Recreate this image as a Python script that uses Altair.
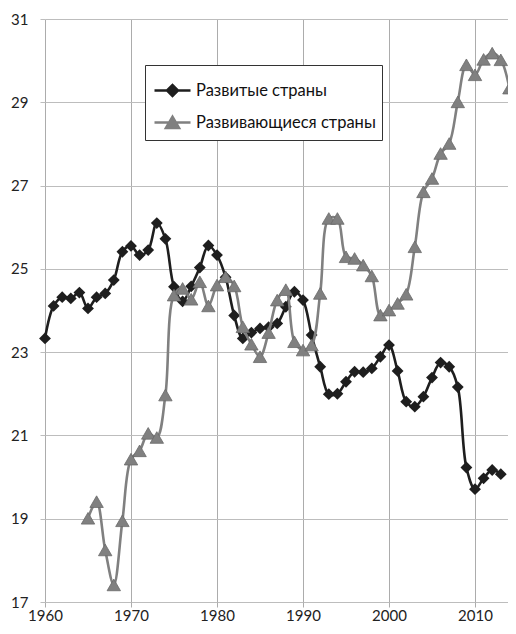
import altair as alt
import pandas as pd

# ---- data ----
dev_years = list(range(1960, 2014))
dev_values = [
    23.33, 24.11, 24.32, 24.29, 24.43, 24.05, 24.32, 24.41, 24.73, 25.41,
    25.55, 25.33, 25.45, 26.10, 25.72, 24.57, 24.22, 24.58, 25.03, 25.56,
    25.33, 24.80, 23.88, 23.33, 23.47, 23.57, 23.60, 23.69, 24.09, 24.45,
    24.25, 23.41, 22.65, 21.99, 22.00, 22.29, 22.53, 22.52, 22.61, 22.89,
    23.17, 22.55, 21.81, 21.69, 21.93, 22.39, 22.75, 22.65, 22.16, 20.23,
    19.71, 19.97, 20.17, 20.07,
]
ing_years = list(range(1965, 2015))
ing_values = [
    19.01, 19.41, 18.25, 17.41, 18.95, 20.43, 20.63, 21.05, 20.95, 21.97,
    24.37, 24.53, 24.27, 24.69, 24.11, 24.61, 24.81, 24.59, 23.61, 23.19,
    22.89, 23.47, 24.25, 24.50, 23.25, 23.05, 23.17, 24.41, 26.21, 26.21,
    25.29, 25.25, 25.09, 24.83, 23.89, 24.01, 24.17, 24.39, 25.53, 26.85,
    27.17, 27.77, 28.01, 29.01, 29.90, 29.66, 30.03, 30.18, 30.02, 29.34,
]
series_names = ["Развитые страны", "Развивающиеся страны"]
series_colors = ["#1e1e1e", "#808080"]
x_ticks = [1960, 1970, 1980, 1990, 2000, 2010]
y_ticks = [17, 19, 21, 23, 25, 27, 29, 31]

df = pd.concat([
    pd.DataFrame({"year": dev_years, "value": dev_values, "series": series_names[0]}),
    pd.DataFrame({"year": ing_years, "value": ing_values, "series": series_names[1]}),
], ignore_index=True)

FONT = "Lato, Open Sans, sans-serif"
GRID = "#bdbdbd"
XGRID = "#acacac"
PLOT_W, PLOT_H = 463, 583
PX_PER_YEAR = 8.6  # whole-pixel decade spacing keeps vertical grid lines crisp

x_scale = alt.Scale(domain=[1960, 1960 + PLOT_W / PX_PER_YEAR], nice=False, zero=False)
y_scale = alt.Scale(domain=[17, 31], nice=False, zero=False)

x_enc = alt.X(
    "year:Q", scale=x_scale,
    axis=alt.Axis(values=x_ticks, format="d", title=None, labelPadding=1,
                  grid=True, gridColor=XGRID, tickColor=XGRID, ticks=True,
                  domain=False, labelFlush=False),
)
y_enc = alt.Y(
    "value:Q", scale=y_scale,
    axis=alt.Axis(values=y_ticks, title=None, labelPadding=12,
                  grid=True, ticks=True, domain=False, labelFlush=False),
)

base = alt.Chart(df).encode(x=x_enc, y=y_enc)
dev = base.transform_filter(alt.datum.series == series_names[0])
ing = base.transform_filter(alt.datum.series == series_names[1])

dev_line = dev.mark_line(color=series_colors[0], strokeWidth=2.6, interpolate="catmull-rom")
dev_pts = dev.mark_point(shape="diamond", filled=True, size=140, color=series_colors[0], opacity=1)
ing_line = ing.mark_line(color=series_colors[1], strokeWidth=2.6, interpolate="catmull-rom")
ing_pts = ing.mark_point(shape="triangle-up", filled=True, size=180, color=series_colors[1],
                         stroke="#6a6a6a", strokeWidth=0.8, opacity=1)

# legend carrier (no visible marks; legend comes from explicit scale domains)
legend_paths = [
    "M-1,0L1,0M-0.3,0L0,-0.3L0.3,0L0,0.3Z",
    "M-1,0L1,0M-0.36,0.3L0,-0.32L0.36,0.3Z",
]
leg = alt.Legend(
    title=None, orient="none", legendX=100, legendY=46,
    fillColor="white", strokeColor="#333333", padding=6,
    symbolSize=1296, symbolStrokeWidth=2.6, symbolOffset=2,
    labelFont=FONT, labelFontSize=16.5, labelColor="#111111", labelOffset=4,
    labelLimit=400, rowPadding=1, symbolOpacity=1,
)
legend_layer = alt.Chart(df).transform_filter("false").mark_point(filled=True, opacity=1).encode(
    color=alt.Color("series:N", scale=alt.Scale(domain=series_names, range=series_colors), legend=leg),
    stroke=alt.Stroke("series:N", scale=alt.Scale(domain=series_names, range=series_colors), legend=leg),
    shape=alt.Shape("series:N", scale=alt.Scale(domain=series_names, range=legend_paths), legend=leg),
)

chart = alt.layer(dev_line, dev_pts, ing_line, ing_pts, legend_layer).properties(
    width=PLOT_W, height=PLOT_H,
    autosize=alt.AutoSizeParams(type="none"),
    padding={"left": 37, "top": 11, "right": 0, "bottom": 22},
).configure_view(stroke=None).configure_axis(
    labelFont=FONT, labelFontSize=15, labelColor="#222222",
    gridColor=GRID, gridWidth=1, gridOpacity=1,
    tickColor=GRID, tickSize=5, tickWidth=1,
)

chart.save("out.html", embed_options={"renderer": "svg", "actions": False})
